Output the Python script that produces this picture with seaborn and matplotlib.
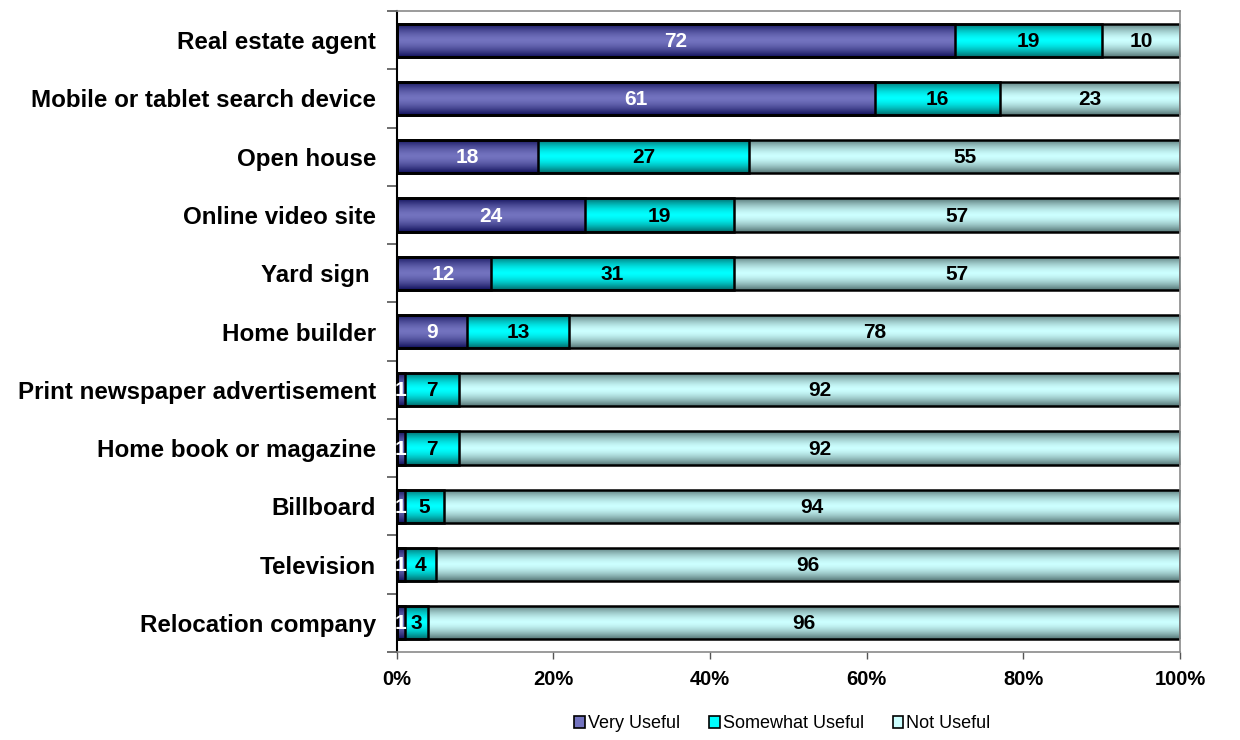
import numpy as np
import pandas as pd
import matplotlib
matplotlib.use("Agg")
import matplotlib.pyplot as plt
from matplotlib.colors import to_rgb
from matplotlib.patches import Patch
import seaborn as sns

categories = [
    "Real estate agent",
    "Mobile or tablet search device",
    "Open house",
    "Online video site",
    "Yard sign ",
    "Home builder",
    "Print newspaper advertisement",
    "Home book or magazine",
    "Billboard",
    "Television",
    "Relocation company",
]
very_useful = [72, 61, 18, 24, 12, 9, 1, 1, 1, 1, 1]
somewhat_useful = [19, 16, 27, 19, 31, 13, 7, 7, 5, 4, 3]
not_useful = [10, 23, 55, 57, 57, 78, 92, 92, 94, 96, 96]
series_names = ["Very Useful", "Somewhat Useful", "Not Useful"]
tick_values = [0, 20, 40, 60, 80, 100]

colors = ["#7373BF", "#00FFFF", "#CCFFFF"]
edge_dark = ["#10105A", "#006A6A", "#557575"]
label_colors = ["white", "black", "black"]

sns.set_theme(style="white")
plt.rcParams["font.family"] = ["Liberation Sans", "DejaVu Sans"]
plt.rcParams["text.color"] = "black"
plt.rcParams["xtick.labelcolor"] = "black"
plt.rcParams["ytick.labelcolor"] = "black"

df = pd.DataFrame({
    "category": categories,
    "very": very_useful,
    "some": somewhat_useful,
    "not": not_useful,
})
totals = df[["very", "some", "not"]].sum(axis=1)
shares = df[["very", "some", "not"]].div(totals, axis=0) * 100
cum = shares.cumsum(axis=1)

fig = plt.figure(figsize=(12.4, 7.4), dpi=100)
ax = fig.add_axes([0.320, 0.119, 0.6316, 0.866])


def shaded_strip(base, dark, n=80):
    """Vertical RGB strip: base colour in the middle, darker at both edges."""
    t = np.linspace(0, 1, n)
    f = np.abs(2 * t - 1) ** 1.6
    b = np.array(to_rgb(base))
    d = np.array(to_rgb(dark))
    rgb = b[None, :] * (1 - f[:, None]) + d[None, :] * f[:, None]
    return rgb[:, None, :]


bar_h = 0.57
layers = [("not", 2), ("some", 1), ("very", 0)]
for col, idx in layers:
    plot_df = pd.DataFrame({"category": categories, "value": cum[col].values})
    n_before = len(ax.patches)
    sns.barplot(data=plot_df, y="category", x="value", orient="h",
                color=colors[idx], width=bar_h, edgecolor="black",
                linewidth=1.8, saturation=1, ax=ax)
    strip = shaded_strip(colors[idx], edge_dark[idx])
    for p in ax.patches[n_before:]:
        x0, y0 = p.get_x(), p.get_y()
        w, h = p.get_width(), p.get_height()
        p.set_facecolor("none")
        im = ax.imshow(strip, aspect="auto", origin="upper",
                       extent=(x0, x0 + w, y0 + h, y0),
                       interpolation="bilinear",
                       zorder=p.get_zorder() - 0.01)
        im.set_clip_path(p)

# value labels centred in each segment
cols = ["very", "some", "not"]
raw = [very_useful, somewhat_useful, not_useful]
for i in range(len(categories)):
    for k, col in enumerate(cols):
        left = cum[col].iloc[i] - shares[col].iloc[i]
        ctr = left + shares[col].iloc[i] / 2
        ax.text(ctr, i + 0.02, f"{raw[k][i]}", ha="center", va="center",
                fontsize=15, fontweight="bold", color=label_colors[k],
                zorder=10)

ax.set_xlim(0, 100)
ax.set_ylim(len(categories) - 0.5, -0.5)
ax.set_xlabel("")
ax.set_ylabel("")
ax.set_xticks(tick_values)
ax.set_xticklabels([f"{v}%" for v in tick_values], fontsize=14.5,
                   fontweight="bold")
ax.set_yticks(range(len(categories)))
ax.set_yticklabels(categories, fontsize=17.4, fontweight="bold")
ax.set_yticks(np.arange(-0.5, len(categories), 1), minor=True)
ax.tick_params(axis="y", which="major", length=0, pad=15)
ax.tick_params(axis="y", which="minor", length=7, width=1.2,
               color="#555555", left=True)
ax.tick_params(axis="x", which="major", length=5, width=1.0,
               color="#555555", bottom=True, pad=8)

for side in ["top", "right", "bottom"]:
    ax.spines[side].set_color("#8a8a8a")
    ax.spines[side].set_linewidth(1.2)
ax.spines["left"].set_color("black")
ax.spines["left"].set_linewidth(1.5)

handles = [Patch(facecolor=c, edgecolor="black", linewidth=1.2)
           for c in colors]
fig.legend(handles, series_names, loc="center", ncol=3,
           bbox_to_anchor=(0.631, 0.022), frameon=False, fontsize=13,
           handlelength=0.6, handleheight=0.6, handletextpad=0.15,
           columnspacing=1.6)

fig.savefig("out.png", dpi=100, facecolor="white")
